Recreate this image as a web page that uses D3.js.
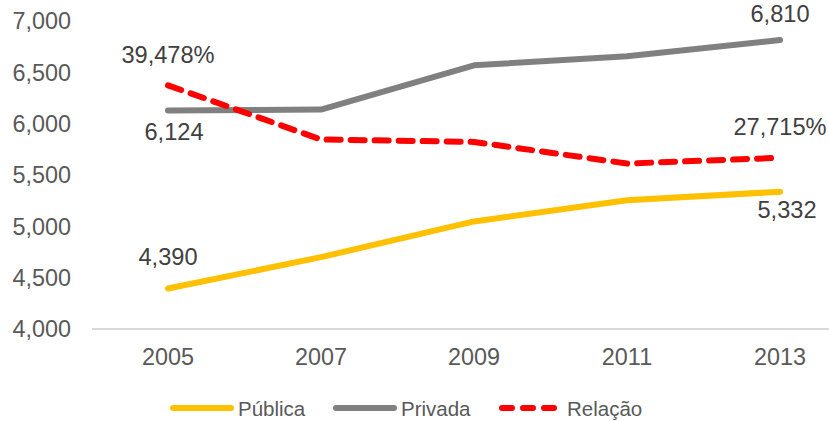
<!DOCTYPE html>
<html>
<head>
<meta charset="utf-8">
<script src="https://cdn.jsdelivr.net/npm/d3@7"></script>
<style>
  html, body { margin: 0; padding: 0; background: #fff; }
  svg { display: block; font-family: "Liberation Sans", Arial, sans-serif; }
</style>
</head>
<body>
<svg id="chart" width="829" height="421"></svg>
<script>
// Anos e séries
const years = ["2005", "2007", "2009", "2011", "2013"];
const publica = [4390, 4695, 5043, 5250, 5332];
const privada = [6124, 6132, 6563, 6651, 6810];
const relacao = [39.478, 30.68, 30.29, 26.78, 27.715]; // % (eixo secundário, oculto)
const yTicks = [4000, 4500, 5000, 5500, 6000, 6500, 7000];

const seriesNames = ["Pública", "Privada", "Relação"];
const seriesColors = ["#FFC000", "#808080", "#FF0000"];

const svg = d3.select("#chart");
const plotLeft = 91.5, plotRight = 856.5, plotTop = 20.5, plotBottom = 328.5;

const x = d3.scaleBand().domain(years).range([plotLeft, plotRight]);
const xc = d => x(d) + x.bandwidth() / 2;
const y = d3.scaleLinear().domain([4000, 7000]).range([plotBottom, plotTop]);
const y2 = d3.scaleLinear().domain([0, 50]).range([plotBottom, plotTop]);

const fmt = d3.format(",");
const ptLocale = d3.formatLocale({ decimal: ",", thousands: ".", grouping: [3], currency: ["", ""] });
const fmtPct = v => ptLocale.format(".3f")(v) + "%";

// Eixo Y principal (apenas rótulos)
const yAxis = svg.append("g")
  .attr("transform", `translate(${plotLeft - 20.5},0)`)
  .call(d3.axisLeft(y).tickValues(yTicks).tickFormat(fmt).tickSize(0).tickPadding(0));
yAxis.select(".domain").remove();
yAxis.selectAll("text")
  .attr("fill", "#595959")
  .style("font-size", "23.4px")
  .attr("dy", "0.36em");

// Eixo X
const xAxis = svg.append("g")
  .attr("transform", `translate(0,${plotBottom})`)
  .call(d3.axisBottom(x).tickSize(0).tickPadding(0));
xAxis.select(".domain").attr("stroke", "#D9D9D9").attr("stroke-width", 2);
xAxis.selectAll("text")
  .attr("fill", "#595959")
  .style("font-size", "23.4px")
  .attr("dy", "0")
  .attr("y", 36.5);

// Linhas
const linePrimary = d3.line().x((d, i) => xc(years[i])).y(d => y(d));
const lineSecondary = d3.line().x((d, i) => xc(years[i])).y(d => y2(d));

svg.append("path").datum(privada)
  .attr("d", linePrimary).attr("fill", "none")
  .attr("stroke", seriesColors[1]).attr("stroke-width", 6)
  .attr("stroke-linecap", "round").attr("stroke-linejoin", "round");

svg.append("path").datum(publica)
  .attr("d", linePrimary).attr("fill", "none")
  .attr("stroke", seriesColors[0]).attr("stroke-width", 6)
  .attr("stroke-linecap", "round").attr("stroke-linejoin", "round");

svg.append("path").datum(relacao)
  .attr("d", lineSecondary).attr("fill", "none")
  .attr("stroke", seriesColors[2]).attr("stroke-width", 6)
  .attr("stroke-dasharray", "14 10")
  .attr("stroke-linecap", "round").attr("stroke-linejoin", "round");

// Rótulos de dados (primeiro e último ponto)
const labels = [
  { v: publica[0], i: 0, scale: y, text: fmt(publica[0]), dy: -23, dx: 0 },
  { v: publica[4], i: 4, scale: y, text: fmt(publica[4]), dy: 26, dx: 7 },
  { v: privada[0], i: 0, scale: y, text: fmt(privada[0]), dy: 30, dx: 6 },
  { v: privada[4], i: 4, scale: y, text: fmt(privada[4]), dy: -18, dx: 0 },
  { v: relacao[0], i: 0, scale: y2, text: fmtPct(relacao[0]), dy: -22, dx: 0 },
  { v: relacao[4], i: 4, scale: y2, text: fmtPct(relacao[4]), dy: -23, dx: 0 }
];
svg.append("g").selectAll("text").data(labels).join("text")
  .attr("x", d => xc(years[d.i]) + d.dx)
  .attr("y", d => d.scale(d.v) + d.dy)
  .attr("text-anchor", "middle")
  .attr("fill", "#404040")
  .style("font-size", "23.6px")
  .text(d => d.text);

// Legenda
const legendItems = [
  { name: seriesNames[0], color: seriesColors[0], x0: 173, x1: 231, tx: 238, dash: null },
  { name: seriesNames[1], color: seriesColors[1], x0: 336, x1: 394, tx: 401, dash: null },
  { name: seriesNames[2], color: seriesColors[2], x0: 502, x1: 555, tx: 567, dash: "10 11" }
];
const legend = svg.append("g");
const ly = 408;
legendItems.forEach(it => {
  legend.append("line")
    .attr("x1", it.x0).attr("x2", it.x1).attr("y1", ly).attr("y2", ly)
    .attr("stroke", it.color).attr("stroke-width", 6)
    .attr("stroke-linecap", "round")
    .attr("stroke-dasharray", it.dash);
  legend.append("text")
    .attr("x", it.tx).attr("y", ly + 7.5)
    .attr("fill", "#595959")
    .style("font-size", "20.5px")
    .text(it.name);
});
</script>
</body>
</html>
